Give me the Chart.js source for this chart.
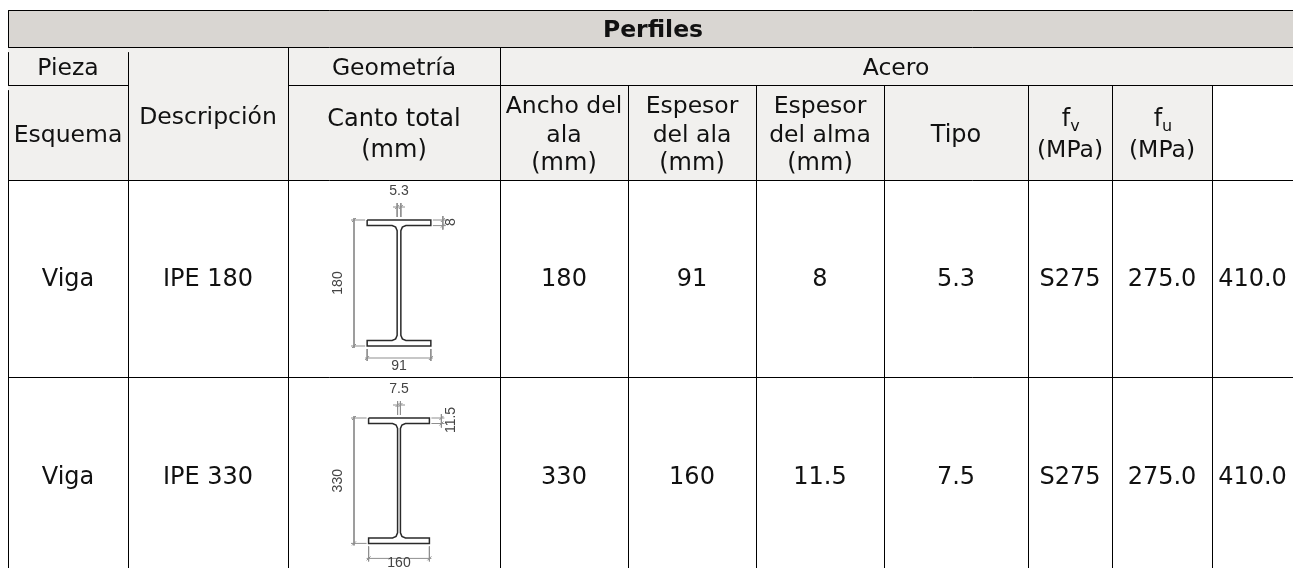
<!DOCTYPE html>
<html>
<head>
<meta charset="utf-8">
<title>Perfiles</title>
<script src="https://cdn.jsdelivr.net/npm/chart.js@4"></script>
<style>
  html, body { margin: 0; padding: 0; background: #fff; }
  canvas { display: block; }
</style>
</head>
<body>
<canvas id="tabla" width="1293" height="568"></canvas>
<script>
// table values
const piezas = ["Viga", "Viga"];
const descripciones = ["IPE 180", "IPE 330"];
const canto = [180, 330];
const anchoAla = [91, 160];
const espesorAla = [8, 11.5];
const espesorAlma = [5.3, 7.5];
const tipos = ["S275", "S275"];
const fy = [275.0, 275.0];
const fu = [410.0, 410.0];

// layout of the table, in page pixels
const colX = [8, 128, 288, 500, 628, 756, 884, 1028, 1112, 1212, 1293];
const rowY = [10, 47, 85, 180, 377, 568];
const filaCentro = [279, 477];
const escala = [0.70, 0.38];
const perfilTop = [220, 418];
const cotaBajo = [12, 15];
const perfilX = 399;

const CUERPO = '24px "DejaVu Sans"';
const CABECERA = '23.5px "DejaVu Sans"';
const NEGRO = "#111111";
const GRIS = "#8f8f8f";

function rule(x0, y0, x1, y1) {
  return {
    data: [{ x: x0 + 0.5, y: y0 + 0.5 }, { x: x1 + 0.5, y: y1 + 0.5 }],
    showLine: true,
    pointRadius: 0,
    borderColor: "#000000",
    borderWidth: 1
  };
}

function tableRules() {
  const r = [];
  r.push(rule(8, rowY[0], 1293, rowY[0]));
  r.push(rule(8, rowY[1], 1293, rowY[1]));
  r.push(rule(8, rowY[2], colX[1], rowY[2]));
  r.push(rule(colX[2], rowY[2], 1293, rowY[2]));
  r.push(rule(8, rowY[3], 1293, rowY[3]));
  r.push(rule(8, rowY[4], 1293, rowY[4]));
  // left edge has small gaps under the first two rows
  r.push(rule(8, 10, 8, 47));
  r.push(rule(8, 52, 8, 85));
  r.push(rule(8, 90, 8, 568));
  r.push(rule(colX[1], 52, colX[1], 568));
  r.push(rule(colX[2], 47, colX[2], 568));
  r.push(rule(colX[3], 47, colX[3], 568));
  for (let i = 4; i <= 9; i++) r.push(rule(colX[i], rowY[2], colX[i], 568));
  return r;
}

// I section outline from its real dimensions, drawn at scale k
function perfilOutline(i) {
  const k = escala[i];
  const top = perfilTop[i];
  const h = canto[i] * k, b = anchoAla[i] * k;
  const tf = Math.max(espesorAla[i] * k, 5.5), tw = espesorAlma[i] * k;
  const fil = 5;
  const l = perfilX - b / 2, r = perfilX + b / 2;
  const wl = perfilX - tw / 2, wr = perfilX + tw / 2;
  const y1 = top + tf, y2 = top + h - tf, y3 = top + h;
  const pts = [[l, top], [r, top], [r, y1]];
  pts.push([wr + fil, y1], [wr + 1.5, y1 + 1.5], [wr, y1 + fil]);
  pts.push([wr, y2 - fil], [wr + 1.5, y2 - 1.5], [wr + fil, y2]);
  pts.push([r, y2], [r, y3], [l, y3], [l, y2]);
  pts.push([wl - fil, y2], [wl - 1.5, y2 - 1.5], [wl, y2 - fil]);
  pts.push([wl, y1 + fil], [wl - 1.5, y1 + 1.5], [wl - fil, y1]);
  pts.push([l, y1], [l, top]);
  return {
    data: pts.map(p => ({ x: p[0], y: p[1] })),
    showLine: true,
    pointRadius: 0,
    borderColor: "#2a2a2a",
    borderWidth: 1.5
  };
}

// dimension lines around a section
function perfilCotas(i) {
  const k = escala[i];
  const top = perfilTop[i];
  const h = canto[i] * k, b = anchoAla[i] * k;
  const tf = Math.max(espesorAla[i] * k, 5.5), tw = espesorAlma[i] * k;
  const l = perfilX - b / 2, r = perfilX + b / 2;
  const bot = top + h;
  const dimX = 354, dimY = bot + cotaBajo[i];
  const aL = perfilX - tw / 2, aR = perfilX + tw / 2;
  const segs = [
    [dimX - 3, top, l - 2, top], [dimX - 3, bot, l - 2, bot], [dimX, top - 2, dimX, bot + 2],
    [l, bot + 3, l, dimY + 3], [r, bot + 3, r, dimY + 3], [l - 2, dimY, r + 2, dimY],
    [aL, top - 17, aL, top - 3], [aR, top - 17, aR, top - 3],
    [perfilX - 6, top - 13, perfilX + 6, top - 13],
    [r + 2, top, r + 15, top], [r + 2, top + tf, r + 15, top + tf], [r + 12, top - 4, r + 12, top + tf + 4]
  ];
  // little slashes where the dimension lines meet
  const marcas = [[dimX, top], [dimX, bot], [l, dimY], [r, dimY], [aL, top - 13], [aR, top - 13], [r + 12, top], [r + 12, top + tf]];
  marcas.forEach(m => segs.push([m[0] - 2, m[1] + 2, m[0] + 2, m[1] - 2]));
  return segs.map(s => ({
    data: [{ x: s[0], y: s[1] }, { x: s[2], y: s[3] }],
    showLine: true,
    pointRadius: 0,
    borderColor: GRIS,
    borderWidth: 1
  }));
}

const fondos = {
  id: "fondos",
  beforeDatasetsDraw(chart) {
    const { ctx, scales: { x, y } } = chart;
    const box = (x0, y0, x1, y1, c) => {
      ctx.fillStyle = c;
      ctx.fillRect(x.getPixelForValue(x0), y.getPixelForValue(y0),
        x.getPixelForValue(x1) - x.getPixelForValue(x0), y.getPixelForValue(y1) - y.getPixelForValue(y0));
    };
    box(8, rowY[0], 1293, rowY[1], "#d9d6d2");
    box(8, rowY[1], 1293, rowY[2], "#f1f0ee");
    box(8, rowY[2], colX[9], rowY[3], "#f1f0ee");
  }
};

const textos = {
  id: "textos",
  afterDatasetsDraw(chart) {
    const { ctx, scales: { x, y } } = chart;
    ctx.save();
    ctx.textAlign = "center";
    ctx.textBaseline = "middle";
    const put = (s, px, py, font, color) => {
      ctx.font = font || CUERPO;
      ctx.fillStyle = color || NEGRO;
      ctx.fillText(s, x.getPixelForValue(px), y.getPixelForValue(py));
    };
    const mid = c => (colX[c] + colX[c + 1]) / 2;
    put("Perfiles", 653, 31, 'bold 23.5px "DejaVu Sans"');
    put("Pieza", mid(0), 69, CABECERA);
    put("Geometría", mid(2), 69, CABECERA);
    put("Acero", 896, 69, CABECERA);
    put("Descripción", mid(1), 118, CABECERA);
    put("Esquema", mid(0), 136, CABECERA);
    put("Canto total", mid(2), 120);
    put("(mm)", mid(2), 151);
    put("Ancho del", mid(3), 107, CABECERA);
    put("ala", mid(3), 136, CABECERA);
    put("(mm)", mid(3), 164);
    put("Espesor", mid(4), 107, CABECERA);
    put("del ala", mid(4), 136, CABECERA);
    put("(mm)", mid(4), 164);
    put("Espesor", mid(5), 107, CABECERA);
    put("del alma", mid(5), 136, CABECERA);
    put("(mm)", mid(5), 164);
    put("Tipo", mid(6), 136);
    put("f", mid(7) - 4, 120);
    put("v", mid(7) + 5, 127, '16px "DejaVu Sans"');
    put("(MPa)", mid(7), 151, CABECERA);
    put("f", mid(8) - 4, 120);
    put("u", mid(8) + 5, 127, '16px "DejaVu Sans"');
    put("(MPa)", mid(8), 151, CABECERA);

    piezas.forEach((p, i) => {
      const cy = filaCentro[i] + 1;
      put(p, mid(0), cy);
      put(descripciones[i], mid(1), cy);
      put(String(canto[i]), mid(3), cy);
      put(String(anchoAla[i]), mid(4), cy);
      put(String(espesorAla[i]), mid(5), cy);
      put(String(espesorAlma[i]), mid(6), cy);
      put(tipos[i], mid(7), cy);
      put(fy[i].toFixed(1), mid(8), cy);
      put(fu[i].toFixed(1), mid(9), cy);

      // labels of the section sketch
      const cota = '14px "Liberation Sans"';
      const top = perfilTop[i];
      const bot = top + canto[i] * escala[i];
      put(String(espesorAlma[i]), perfilX, top - 29, cota, "#444444");
      put(String(anchoAla[i]), perfilX, bot + 20, cota, "#444444");
      const giro = (s, px, py) => {
        ctx.save();
        ctx.translate(x.getPixelForValue(px), y.getPixelForValue(py));
        ctx.rotate(-Math.PI / 2);
        ctx.font = cota;
        ctx.fillStyle = "#444444";
        ctx.fillText(s, 0, 0);
        ctx.restore();
      };
      giro(String(canto[i]), 338, (top + bot) / 2);
      giro(String(espesorAla[i]), 451, top + 2);
    });
    ctx.restore();
  }
};

const datasets = tableRules();
piezas.forEach((p, i) => {
  datasets.push(perfilOutline(i));
  perfilCotas(i).forEach(d => datasets.push(d));
});

new Chart(document.getElementById("tabla"), {
  type: "scatter",
  data: { datasets },
  options: {
    responsive: false,
    animation: false,
    layout: { padding: 0 },
    plugins: { legend: { display: false }, tooltip: { enabled: false } },
    scales: {
      x: { type: "linear", min: 0, max: 1293, display: false },
      y: { type: "linear", min: 0, max: 568, reverse: true, display: false }
    }
  },
  plugins: [fondos, textos]
});
</script>
</body>
</html>
